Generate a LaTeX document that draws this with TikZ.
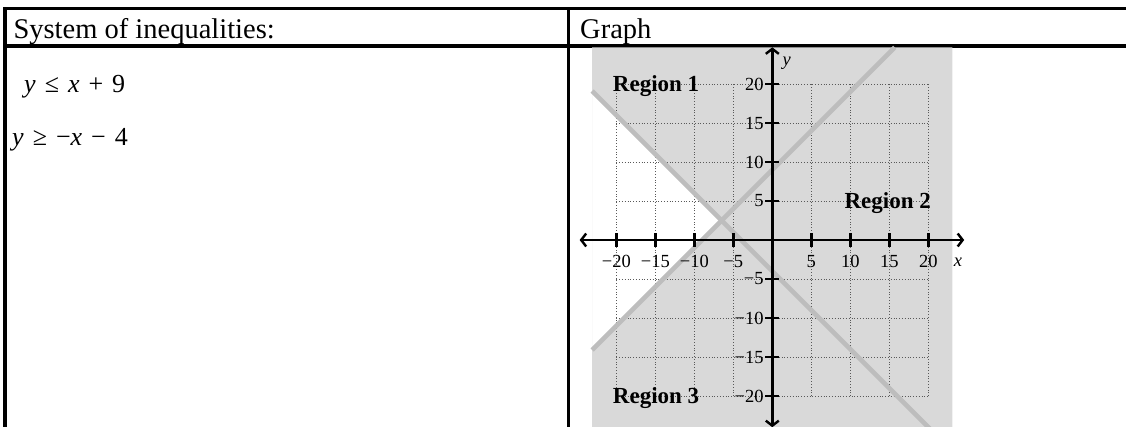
\documentclass[tikz,border=0pt]{standalone}
\usepackage{fontspec}
\setmainfont{Liberation Serif}
\usetikzlibrary{arrows.meta}
\tikzset{
  tabline/.style={line width=3.2pt},
  hdr/.style={font=\fontsize{28.5}{34}\selectfont,anchor=base west,inner sep=0pt},
  eqn/.style={font=\fontsize{26}{30}\selectfont,anchor=base west,inner sep=0pt},
  shade/.style={fill=black!15},
  gridln/.style={dotted,line width=0.8pt,black!65},
  bdry/.style={line width=4.5pt,black!26},
  axisln/.style={line width=2.4pt,{Straight Barb[length=5pt,width=13pt]}-{Straight Barb[length=5pt,width=13pt]}},
  tickm/.style={line width=2.4pt},
  ticklbl/.style={font=\fontsize{18.5}{22}\selectfont,inner sep=0pt},
  regn/.style={font=\fontsize{23}{28}\selectfont\bfseries,anchor=base,inner sep=0pt},
}
\newcommand{\gap}{\hspace{9pt}}

\begin{document}
\begin{tikzpicture}[x=1pt,y=-1pt]
  \useasboundingbox (0,0) rectangle (1126,427);
  % table frame
  \draw[tabline] (3.3,8.7) -- (1126,8.7);
  \draw[tabline] (3.3,46) -- (1126,46);
  \draw[tabline] (5,7.3) -- (5,427);
  \draw[tabline] (568.5,7.3) -- (568.5,427);
  \node[hdr] (syshead) at (13.3,39) {System of inequalities:};
  \node[hdr] (graphhead) at (580,39) {Graph};
  \node[eqn] (ineqa) at (24,92.5) {\textit{y}\gap≤\gap\textit{x}\gap+\gap9};
  \node[eqn] (ineqb) at (12,146) {\textit{y}\gap≥\gap−\textit{x}\gap−\gap4};
  % graph, 1 unit = 7.8pt
  \begin{scope}[shift={(772.3,240)},x=7.8pt,y=7.8pt]
    \fill[shade,even odd rule] (-23.1,-24.7) rectangle (23.1,24.7)
      (-23.1,-14.1) -- (-6.5,2.5) -- (-23.1,19.1) -- cycle;
    \draw[gridln] (-20,-20) grid[step=5] (20,20);
    \coordinate (pa) at (-23.1,-14.1);
    \coordinate (pb) at (15.7,24.7);
    \coordinate (qa) at (-23.1,19.1);
    \coordinate (qb) at (21.5,-25.5);
    \draw[bdry] (pa) -- (pb);
    \draw[bdry] (qa) -- (qb);
    \draw[axisln] (-24.7,0) -- (24.6,0);
    \draw[axisln] (0,-24) -- (0,24.7);
    \foreach \t in {5,10,15,20}{
      \draw[tickm] (\t,0.85) -- (\t,-0.85);
      \draw[tickm] (-\t,0.85) -- (-\t,-0.85);
      \draw[tickm] (-0.9,\t) -- (0.9,\t);
      \draw[tickm] (-0.9,-\t) -- (0.9,-\t);
      \node[ticklbl] (xp\t) at (\t,-2.8) {\t};
      \node[ticklbl] (xn\t) at (-\t,-2.8) {−\t};
      \node[ticklbl,anchor=east] (yp\t) at (-1.1,\t) {\t};
      \node[ticklbl,anchor=east] (yn\t) at (-1.1,-\t) {−\t};
    }
    \node[ticklbl] (xlab) at (23.8,-2.8) {\textit{x}};
    \node[ticklbl] (ylab) at (1.85,22.7) {\textit{y}};
    \node[regn] (reg1) at (-14.9,19.05) {Region 1};
    \node[regn] (reg2) at (14.8,4.05) {Region 2};
    \node[regn] (reg3) at (-14.9,-20.95) {Region 3};
  \end{scope}
\end{tikzpicture}
\end{document}
